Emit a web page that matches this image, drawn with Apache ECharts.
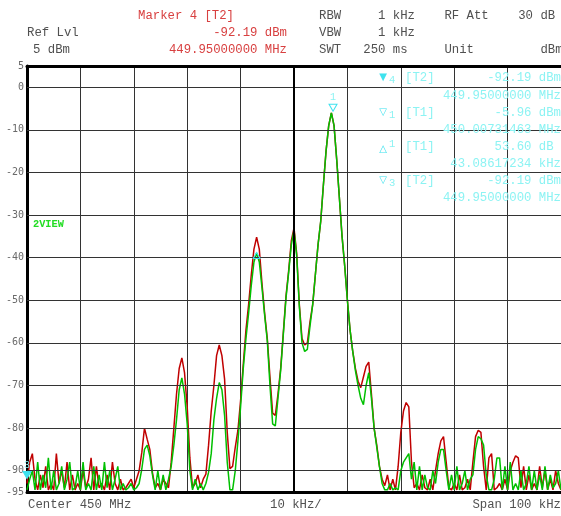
<!DOCTYPE html>
<html><head><meta charset="utf-8">
<script src="https://cdn.jsdelivr.net/npm/echarts@6/dist/echarts.min.js"></script>
<style>html,body{margin:0;padding:0;background:#fff}#c{width:561px;height:516px}</style>
</head><body><div id="c"></div>
<script>
// Sweep points (kHz offset from 450 MHz centre), span 100 kHz
const freqKHz = [-50,-49.5,-49,-48.5,-48,-47.5,-47,-46.5,-46,-45.5,-45,-44.5,-44,-43.5,-43,-42.5,-42,-41.5,-41,-40.5,
-40,-39.5,-39,-38.5,-38,-37.5,-37,-36.5,-36,-35.5,-35,-34.5,-34,-33.5,-33,-32.5,-32,-31.5,-31,-30.5,
-30,-29.5,-29,-28.5,-28,-27.5,-27,-26.5,-26,-25.5,-25,-24.5,-24,-23.5,-23,-22.5,-22,-21.5,-21,-20.5,
-20,-19.5,-19,-18.5,-18,-17.5,-17,-16.5,-16,-15.5,-15,-14.5,-14,-13.5,-13,-12.5,-12,-11.5,-11,-10.5,
-10,-9.5,-9,-8.5,-8,-7.5,-7,-6.5,-6,-5.5,-5,-4.5,-4,-3.5,-3,-2.5,-2,-1.5,-1,-0.5,
0,0.5,1,1.5,2,2.5,3,3.5,4,4.5,5,5.5,6,6.5,7,7.5,8,8.5,9,9.5,
10,10.5,11,11.5,12,12.5,13,13.5,14,14.5,15,15.5,16,16.5,17,17.5,18,18.5,19,19.5,
20,20.5,21,21.5,22,22.5,23,23.5,24,24.5,25,25.5,26,26.5,27,27.5,28,28.5,29,29.5,
30,30.5,31,31.5,32,32.5,33,33.5,34,34.5,35,35.5,36,36.5,37,37.5,38,38.5,39,39.5,
40,40.5,41,41.5,42,42.5,43,43.5,44,44.5,45,45.5,46,46.5,47,47.5,48,48.5,49,49.5,50];

// Trace 1 (red, dBm)
const traceT1 = [-93,-88,-86,-92,-94.5,-91,-94,-89,-94.5,-93,-94.5,-86,-93,-90,-94,-88,-94.5,-91,-94.5,-93,
-94.5,-90,-94,-92,-87,-94.5,-89,-94,-93,-94.5,-91,-94.5,-88,-93,-94.5,-92,-94.5,-94,-93,-92,
-94,-92,-90,-85.7,-80,-82.6,-85,-90.5,-94,-93,-94.5,-92,
-93,-94,-88,-80,-72,-66,-63.5,-67,-75,-87,
-94,-93,-91,-94,-92,-90.8,-84,-76,-70,-63,
-60.5,-63,-68.5,-81,-89.5,-89,-84.5,-80.5,-73.5,-65,
-57,-51,-44,-38,-35.2,-38,-46,-53,-59,-68,
-76.5,-77,-72,-66,-57.6,-49,-43,
-36,-33,-39,-51,-59,-60.5,-60,-55,-51,-44,
-37,-31.5,-23,-15,-9,-6,-9,-17,-26,-35,
-42,-50,-57,-62,-66,-69,-70.5,-68,-65.5,-64.5,
-72,-80,-84,-89,-92,-93.5,-91,-94.5,-92,-94.5,
-89,-81,-76,-74,-75,-88,-94,-93,-94.5,-91,
-94,-94.5,-92,-94.5,-90,-86,-83,-82,-88,-94,
-94.5,-93,-94.5,-91,-94.5,-94,-92,-94.5,-88,-82,
-80.5,-81,-89,-94.5,-87,-86,-94.5,-94,-93,-94.5,
-92,-94.5,-90,-88,-86.5,-87,-94,-89,-94.5,-91,
-94.5,-93,-94.5,-89,-94,-90,-94.5,-92,-94.5,-90,
-93,-94.5];

// Trace 2 (green, dBm)
const traceT2 = [-94.5,-92,-90,-94.5,-88,-94.5,-91,-94,-87,-94.5,-90,-94.5,-93,-89,-94.5,-92,-88,-94.5,-94,-90,
-94.5,-88,-94.5,-93,-94.5,-89,-94.5,-91,-94.5,-88,-94,-90,-94.5,-92,-89,-94.5,-93,-94.5,-94,-93,
-94.5,-94,-93,-89.6,-85,-84,-86.5,-91,-94.5,-90,-94.5,-91,
-94.5,-92,-89,-84,-78,-71,-68.2,-72,-79,-90,
-94.5,-92,-94.5,-93,-94.5,-93,-90.4,-86,-78,-73,
-69.3,-71,-77,-88,-94.5,-94.5,-90,-83,-75,-66,
-59,-53,-46.5,-41,-38.9,-41,-47,-53.5,-59.5,-70,
-79,-79.5,-73,-66.5,-58,-49.5,-43.5,
-37,-33.5,-39.5,-51.5,-60,-62,-61.5,-56,-51,-44,
-37,-31.5,-23,-15,-9,-6,-9,-17,-26,-35,
-42,-50,-57,-62,-66.5,-70,-73,-74.5,-70,-67,
-73,-80,-84.5,-89,-93,-94.5,-94.5,-93,-94.5,-94,
-94.5,-90,-88,-87,-86,-92,-88,-94.5,-89,-94.5,
-91,-94,-94.5,-90,-93,-88,-85,-85,-90,-94.5,
-91,-94.5,-89,-94.5,-93,-90,-94.5,-92,-91,-85,
-82,-82.5,-84,-91,-94.5,-94.5,-92,-87,-87,-94.5,
-89,-94.5,-88,-94.5,-93,-94.5,-90,-94.5,-93,-89,
-94.5,-90,-94.5,-91,-94.5,-89,-94.5,-91,-94,-93,
-90,-94.5];

const yTickLabels = [5,0,-10,-20,-30,-40,-50,-60,-70,-80,-90,-95];
const hGridLevels = [0,-10,-20,-30,-40,-50,-60,-70,-80,-90];
const markers = [
  {label:'1', kHz:7.31, dBm:-5.96, shape:'downOpen'},
  {label:'',  kHz:-7.0, dBm:-39.0, shape:'upOpen'},
  {label:'3', kHz:-50,  dBm:-92.19, shape:'downFilled'}
];
const headerText = [
  ['Marker 4 [T2]', 138, 16, 'red', 'left'],
  ['RBW     1 kHz    RF Att    30 dB', 319, 16, 'dark', 'left'],
  ['Ref Lvl', 27, 33, 'dark', 'left'],
  ['-92.19 dBm', 287, 33, 'red', 'right'],
  ['VBW     1 kHz', 319, 33, 'dark', 'left'],
  ['5 dBm', 33, 50, 'dark', 'left'],
  ['449.95000000 MHz', 287, 50, 'red', 'right'],
  ['SWT   250 ms     Unit         dBm', 319, 50, 'dark', 'left'],
  ['Center 450 MHz', 28, 505, 'dark', 'left'],
  ['10 kHz/', 270, 505, 'dark', 'left'],
  ['Span 100 kHz', 561, 505, 'dark', 'right']
];
const markerTable = [
  ['▼','4','[T2]','-92.19 dBm', 78, 'sub'],
  ['','','','449.95000000 MHz', 95.5, ''],
  ['▽','1','[T1]','-5.96 dBm', 113, 'sub'],
  ['','','','450.00731463 MHz', 130, ''],
  ['△','1','[T1]','53.60 dB ', 147, 'sup'],
  ['','','','43.08617234 kHz', 164, ''],
  ['▽','3','[T2]','-92.19 dBm', 181, 'sub'],
  ['','','','449.95000000 MHz', 197.5, '']
];

const MONO = "12.3px 'Liberation Mono', 'Courier New', monospace";
const COLORS = {red:'#d84040', dark:'#505050', cyan:'#8cf3f3', cyanMark:'#3fe2ee', t1:'#c00000', t2:'#00c000'};

const graphics = [];
headerText.forEach(([t,x,y,c,al])=>{
  graphics.push({type:'text', x:x, y:y, z:50, silent:true,
    style:{text:t, font:MONO, fill:COLORS[c], align:al, verticalAlign:'middle'}});
});
markerTable.forEach(([g,n,tr,val,y,pos])=>{
  if (g) {
    graphics.push({type:'text', x:383, y:(pos==='sup'? y+2 : y-1), z:50, silent:true,
      style:{text:g, font:"10px 'DejaVu Sans'", fill:COLORS.cyanMark, align:'center', verticalAlign:'middle'}});
    graphics.push({type:'text', x:389, y:(pos==='sup'? y-3 : y+2), z:50, silent:true,
      style:{text:n, font:"10.5px 'Liberation Mono'", fill:COLORS.cyan, align:'left', verticalAlign:'middle'}});
    graphics.push({type:'text', x:405, y:y, z:50, silent:true,
      style:{text:tr, font:MONO, fill:COLORS.cyan, align:'left', verticalAlign:'middle'}});
  }
  graphics.push({type:'text', x:561, y:y, z:50, silent:true,
    style:{text:val, font:MONO, fill:COLORS.cyan, align:'right', verticalAlign:'middle'}});
});
graphics.push({type:'text', x:33, y:224, z:50, silent:true,
  style:{text:'2VIEW', font:"bold 10.3px 'Liberation Mono'", fill:'#22dd22', align:'left', verticalAlign:'middle'}});

const pairs = arr => freqKHz.map((f,i)=>[f, arr[i]]);

const markPointData = markers.map(m=>{
  const down = m.shape.startsWith('down');
  return {
    coord:[m.kHz, m.dBm],
    symbol:'triangle',
    symbolRotate: down ? 180 : 0,
    symbolSize: down ? [8,7] : [7,6],
    symbolOffset: down ? [0,-5] : [0,2],
    itemStyle: m.shape==='downFilled' ? {color:COLORS.cyanMark, borderColor:COLORS.cyanMark, borderWidth:1}
                                      : {color:'rgba(255,255,255,0)', borderColor:COLORS.cyanMark, borderWidth:1},
    label:{show: !!m.label, formatter:m.label, position:'top', distance:1, color:COLORS.cyan,
           fontSize:10, fontFamily:'Liberation Mono'}
  };
});

const chart = echarts.init(document.getElementById('c'), null, {renderer:'canvas'});
chart.setOption({
  animation:false,
  backgroundColor:'#fff',
  grid:{left:27, top:66, right:0, bottom:24, containLabel:false},
  xAxis:[{
    type:'value', min:-50, max:50, interval:10,
    axisLine:{show:true, onZero:false, lineStyle:{color:'#000', width:3}},
    axisTick:{show:false}, axisLabel:{show:false},
    splitLine:{show:true, lineStyle:{color:'#333', width:1}}
  },{
    type:'value', min:-50, max:50, position:'top',
    axisLine:{show:true, onZero:false, lineStyle:{color:'#000', width:3}},
    axisTick:{show:false}, axisLabel:{show:false}, splitLine:{show:false}
  }],
  yAxis:{
    type:'value', min:-95, max:5, interval:5,
    axisLine:{show:true, onZero:false, lineStyle:{color:'#000', width:3}},
    axisTick:{show:false},
    splitLine:{show:false},
    axisLabel:{show:true, margin:3, color:'#6a6a6a', fontSize:10, fontFamily:'DejaVu Sans Mono',
      formatter: v => yTickLabels.includes(v) ? String(v) : ''}
  },
  series:[
    {
      type:'line', z:1, data:[[-50,-95]], showSymbol:false, silent:true,
      lineStyle:{opacity:0},
      markLine:{silent:true, symbol:['none','none'], label:{show:false}, animation:false,
        lineStyle:{color:'#333', width:1, type:'solid'},
        data: hGridLevels.map(v=>({yAxis:v})).concat([{xAxis:0, lineStyle:{color:'#000', width:2, type:'solid'}}])
      }
    },
    {
      name:'T1', type:'line', z:3, data:pairs(traceT1), showSymbol:false, silent:true,
      lineStyle:{color:COLORS.t1, width:1.5}
    },
    {
      name:'T2', type:'line', z:4, data:pairs(traceT2), showSymbol:false, silent:true,
      lineStyle:{color:COLORS.t2, width:1.5},
      markPoint:{silent:true, animation:false, data:markPointData}
    }
  ],
  graphic: graphics
});
</script>
</body></html>
